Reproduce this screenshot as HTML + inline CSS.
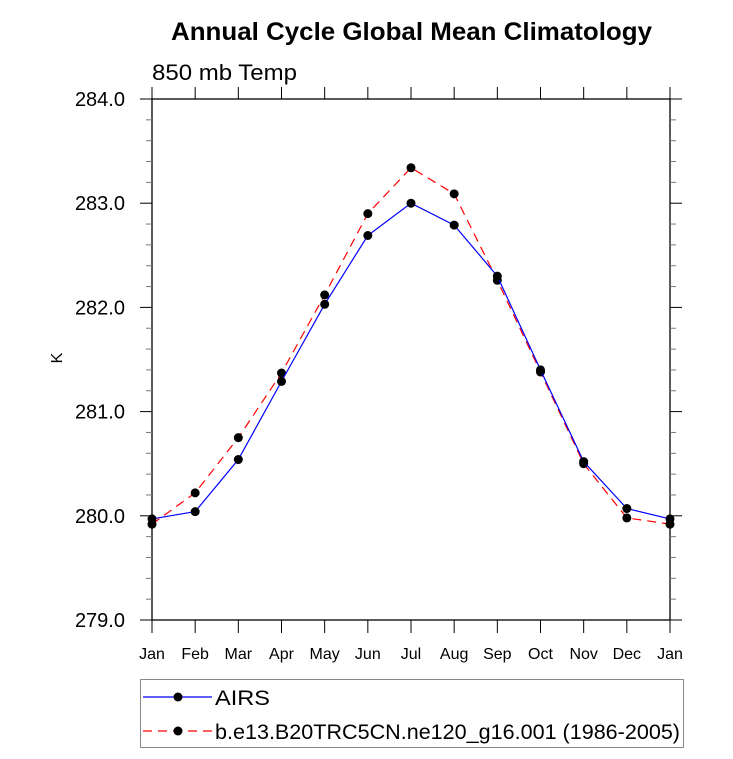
<!DOCTYPE html>
<html><head><meta charset="utf-8"><style>
body{margin:0;background:#fff;}
svg text{font-family:"Liberation Sans",sans-serif;fill:#000;}
</style></head><body>
<svg id="chart" width="733" height="754" xmlns="http://www.w3.org/2000/svg">
<text x="171" y="40" font-size="25" font-weight="bold" textLength="481" lengthAdjust="spacingAndGlyphs">Annual Cycle Global Mean Climatology</text>
<text x="152" y="80" font-size="22" textLength="145" lengthAdjust="spacingAndGlyphs">850 mb Temp</text>
<text x="62" y="358" font-size="16" text-anchor="middle" transform="rotate(-90 62 358)">K</text>
<g id="axes"></g>
<g id="series"></g>
<g>
<rect x="140.5" y="679.5" width="543" height="68" fill="none" stroke="#888" stroke-width="1"/>
<g>
<line x1="143" y1="697" x2="212" y2="697" stroke="#00f" stroke-width="1.2"/>
<circle cx="178" cy="697" r="4.5" fill="#000"/>
<text x="215" y="705" font-size="21" textLength="55" lengthAdjust="spacingAndGlyphs">AIRS</text>
</g>
<g>
<line x1="143" y1="731" x2="212" y2="731" stroke="#f00" stroke-width="1.2" stroke-dasharray="9,6"/>
<circle cx="178" cy="731" r="4.5" fill="#000"/>
<text x="215" y="739" font-size="21" textLength="465" lengthAdjust="spacingAndGlyphs">b.e13.B20TRC5CN.ne120_g16.001 (1986-2005)</text>
</g>
</g>
</svg>
<script>
const months = ["Jan","Feb","Mar","Apr","May","Jun","Jul","Aug","Sep","Oct","Nov","Dec","Jan"];
const yTicks = [279.0,280.0,281.0,282.0,283.0,284.0];
const yTickLabels = ["279.0","280.0","281.0","282.0","283.0","284.0"];
const airs = [279.97,280.04,280.54,281.29,282.03,282.69,283.00,282.79,282.30,281.40,280.52,280.07,279.97];
const model = [279.92,280.22,280.75,281.37,282.12,282.90,283.34,283.09,282.26,281.38,280.50,279.98,279.92];
const NS="http://www.w3.org/2000/svg";
const L=152,R=670,T=99,B=620,ymin=279,ymax=284;
const xs=i=>L+(R-L)*i/(months.length-1);
const ys=v=>B-(B-T)*(v-ymin)/(ymax-ymin);
function mk(tag,attrs,parent){const e=document.createElementNS(NS,tag);for(const k in attrs)e.setAttribute(k,attrs[k]);parent.appendChild(e);return e;}
const ax=document.getElementById('axes');
const frame=mk('rect',{x:L,y:T,width:R-L,height:B-T,fill:'none',stroke:'#000','stroke-width':1.3},ax);


months.forEach((m,i)=>{
  const x=xs(i);
  const t1=mk('line',{x1:x,y1:B,x2:x,y2:B+13,stroke:'#000','stroke-width':1},ax);
  
  
  const t2=mk('line',{x1:x,y1:T,x2:x,y2:T-12,stroke:'#000','stroke-width':1},ax);
  
  
  const tx=mk('text',{x:x,y:B+39,'font-size':16,'text-anchor':'middle'},ax);
  tx.textContent=m;
  
  
});
for(let v=ymin;v<=ymax+1e-9;v+=0.2){
  const major=Math.abs(v-Math.round(v))<1e-6;const y=ys(v);const len=major?12:6;
  const a=mk('line',{x1:L-len,y1:y,x2:L,y2:y,stroke:major?'#000':'#777','stroke-width':1},ax);
  
  
  const b=mk('line',{x1:R,y1:y,x2:R+len,y2:y,stroke:major?'#000':'#777','stroke-width':1},ax);
  
  
}
yTicks.forEach((v,i)=>{
  const tx=mk('text',{x:L-27,y:ys(v)+7,'font-size':20,'text-anchor':'end'},ax);
  tx.textContent=yTickLabels[i];
  
  
});
const sg=document.getElementById('series');
function series(vals,color,dash,name){
  const g=mk('g',{},sg);
  
  
  const p=mk('polyline',{points:vals.map((v,i)=>xs(i)+','+ys(v)).join(' '),fill:'none',stroke:color,'stroke-width':1.2,'stroke-dasharray':dash},g);
  
  
  vals.forEach((v,i)=>{
    const c=mk('circle',{cx:xs(i),cy:ys(v),r:4.5,fill:'#000'},g);
    
    
  });
}
series(model,'#f00','9,6','model-series');
series(airs,'#00f','none','airs-series');
</script>
</body></html>
